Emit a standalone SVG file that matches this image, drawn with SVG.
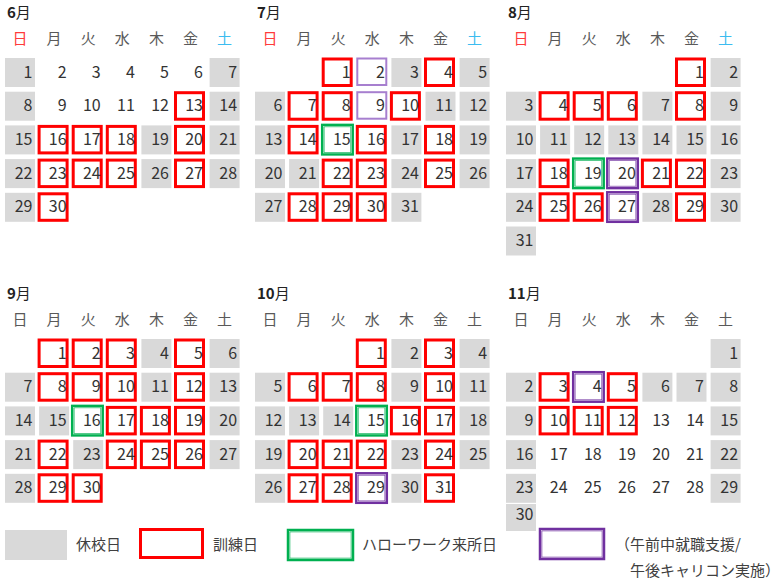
<svg xmlns="http://www.w3.org/2000/svg" xmlns:xlink="http://www.w3.org/1999/xlink" width="779" height="579" viewBox="0 0 779 579">
<style>
text{font-family:"Noto Sans CJK JP","Noto Sans",sans-serif;fill:#333}
.g{fill:#d9d9d9}
.n{font-size:16px;text-anchor:end}
.h{font-size:15px;text-anchor:middle;fill:#595959}
.sun{fill:#ff3b3b}
.sat{fill:#3cbcf0}
.t{font-size:15px;fill:#222}
.b{font-weight:bold}
.r{fill:none;stroke:#ff0000;stroke-width:3}
.gn{fill:none;stroke:#00b050;stroke-width:3.5}
.pu{fill:none;stroke:#7030a0;stroke-width:3.5}
.lv{fill:none;stroke:#a77fcf;stroke-width:2}
.w{fill:none;stroke:#ffffff;stroke-width:0.6;stroke-opacity:0.75}
.lg{font-size:15px;fill:#404040}
</style>
<defs>
<rect id="gc" class="g" width="30" height="29"/>
<rect id="rb" class="r" x="0" y="1" width="28" height="26.5"/>
<g id="gb"><rect class="gn" x="-0.5" y="0" width="29.5" height="28.5"/><rect class="w" x="0.4" y="0.9" width="27.7" height="26.7"/></g>
<g id="pb"><rect class="pu" x="-0.5" y="0" width="29.5" height="28.5"/><rect class="w" x="0.4" y="0.9" width="27.7" height="26.7"/></g>
<rect id="lb" class="lv" x="0" y="0.5" width="29" height="26.5"/>
<g id="hdr1">
<text class="h sun" x="15" y="-14">日</text><text class="h" x="49.1" y="-14">月</text><text class="h" x="83.2" y="-14">火</text><text class="h" x="117.3" y="-14">水</text><text class="h" x="151.4" y="-14">木</text><text class="h" x="185.5" y="-14">金</text><text class="h sat" x="219.6" y="-14">土</text>
</g>
<g id="hdr2">
<text class="h" x="15" y="-14">日</text><text class="h" x="49.1" y="-14">月</text><text class="h" x="83.2" y="-14">火</text><text class="h" x="117.3" y="-14">水</text><text class="h" x="151.4" y="-14">木</text><text class="h" x="185.5" y="-14">金</text><text class="h" x="219.6" y="-14">土</text>
</g>
</defs>

<g id="june" transform="translate(5,58)">
<text class="t" x="2" y="-40"><tspan class="b">6</tspan>月</text>
<use href="#hdr1"/>
<use href="#gc" x="0" y="0"/><use href="#gc" x="204.6" y="0"/>
<use href="#gc" x="0" y="33.7"/><use href="#gc" x="204.6" y="33.7"/>
<use href="#gc" x="0" y="67.4"/><use href="#gc" x="136.4" y="67.4"/><use href="#gc" x="204.6" y="67.4"/>
<use href="#gc" x="0" y="101.1"/><use href="#gc" x="136.4" y="101.1"/><use href="#gc" x="204.6" y="101.1"/>
<use href="#gc" x="0" y="134.8"/>
<use href="#rb" x="170.5" y="33.7"/>
<use href="#rb" x="34.1" y="67.4"/><use href="#rb" x="68.2" y="67.4"/><use href="#rb" x="102.3" y="67.4"/><use href="#rb" x="170.5" y="67.4"/>
<use href="#rb" x="34.1" y="101.1"/><use href="#rb" x="68.2" y="101.1"/><use href="#rb" x="102.3" y="101.1"/><use href="#rb" x="170.5" y="101.1"/>
<use href="#rb" x="34.1" y="134.8"/>
<text class="n" x="27.5" y="19.5">1</text><text class="n" x="61.6" y="19.5">2</text><text class="n" x="95.7" y="19.5">3</text><text class="n" x="129.8" y="19.5">4</text><text class="n" x="163.9" y="19.5">5</text><text class="n" x="198" y="19.5">6</text><text class="n" x="232.1" y="19.5">7</text>
<text class="n" x="27.5" y="53.2">8</text><text class="n" x="61.6" y="53.2">9</text><text class="n" x="95.7" y="53.2">10</text><text class="n" x="129.8" y="53.2">11</text><text class="n" x="163.9" y="53.2">12</text><text class="n" x="198" y="53.2">13</text><text class="n" x="232.1" y="53.2">14</text>
<text class="n" x="27.5" y="86.9">15</text><text class="n" x="61.6" y="86.9">16</text><text class="n" x="95.7" y="86.9">17</text><text class="n" x="129.8" y="86.9">18</text><text class="n" x="163.9" y="86.9">19</text><text class="n" x="198" y="86.9">20</text><text class="n" x="232.1" y="86.9">21</text>
<text class="n" x="27.5" y="120.6">22</text><text class="n" x="61.6" y="120.6">23</text><text class="n" x="95.7" y="120.6">24</text><text class="n" x="129.8" y="120.6">25</text><text class="n" x="163.9" y="120.6">26</text><text class="n" x="198" y="120.6">27</text><text class="n" x="232.1" y="120.6">28</text>
<text class="n" x="27.5" y="154.3">29</text><text class="n" x="61.6" y="154.3">30</text>
</g>

<g id="july" transform="translate(255,58)">
<text class="t" x="2" y="-40"><tspan class="b">7</tspan>月</text>
<use href="#hdr1"/>
<use href="#gc" x="136.4" y="0"/><use href="#gc" x="204.6" y="0"/>
<use href="#gc" x="0" y="33.7"/><use href="#gc" x="170.5" y="33.7"/><use href="#gc" x="204.6" y="33.7"/>
<use href="#gc" x="0" y="67.4"/><use href="#gc" x="136.4" y="67.4"/><use href="#gc" x="204.6" y="67.4"/>
<use href="#gc" x="0" y="101.1"/><use href="#gc" x="34.1" y="101.1"/><use href="#gc" x="136.4" y="101.1"/><use href="#gc" x="204.6" y="101.1"/>
<use href="#gc" x="0" y="134.8"/><use href="#gc" x="136.4" y="134.8"/>
<use href="#rb" x="68.2" y="0"/><use href="#rb" x="170.5" y="0"/>
<use href="#rb" x="34.1" y="33.7"/><use href="#rb" x="68.2" y="33.7"/><use href="#rb" x="136.4" y="33.7"/>
<use href="#rb" x="34.1" y="67.4"/><use href="#rb" x="102.3" y="67.4"/><use href="#rb" x="170.5" y="67.4"/>
<use href="#rb" x="68.2" y="101.1"/><use href="#rb" x="102.3" y="101.1"/><use href="#rb" x="170.5" y="101.1"/>
<use href="#rb" x="34.1" y="134.8"/><use href="#rb" x="68.2" y="134.8"/><use href="#rb" x="102.3" y="134.8"/>
<use href="#lb" x="102.3" y="0"/><use href="#lb" x="102.3" y="33.7"/>
<use href="#gb" x="68.2" y="67.4"/>
<text class="n" x="95.7" y="19.5">1</text><text class="n" x="129.8" y="19.5">2</text><text class="n" x="163.9" y="19.5">3</text><text class="n" x="198" y="19.5">4</text><text class="n" x="232.1" y="19.5">5</text>
<text class="n" x="27.5" y="53.2">6</text><text class="n" x="61.6" y="53.2">7</text><text class="n" x="95.7" y="53.2">8</text><text class="n" x="129.8" y="53.2">9</text><text class="n" x="163.9" y="53.2">10</text><text class="n" x="198" y="53.2">11</text><text class="n" x="232.1" y="53.2">12</text>
<text class="n" x="27.5" y="86.9">13</text><text class="n" x="61.6" y="86.9">14</text><text class="n" x="95.7" y="86.9">15</text><text class="n" x="129.8" y="86.9">16</text><text class="n" x="163.9" y="86.9">17</text><text class="n" x="198" y="86.9">18</text><text class="n" x="232.1" y="86.9">19</text>
<text class="n" x="27.5" y="120.6">20</text><text class="n" x="61.6" y="120.6">21</text><text class="n" x="95.7" y="120.6">22</text><text class="n" x="129.8" y="120.6">23</text><text class="n" x="163.9" y="120.6">24</text><text class="n" x="198" y="120.6">25</text><text class="n" x="232.1" y="120.6">26</text>
<text class="n" x="27.5" y="154.3">27</text><text class="n" x="61.6" y="154.3">28</text><text class="n" x="95.7" y="154.3">29</text><text class="n" x="129.8" y="154.3">30</text><text class="n" x="163.9" y="154.3">31</text>
</g>

<g id="august" transform="translate(506,58)">
<text class="t" x="2" y="-40"><tspan class="b">8</tspan>月</text>
<use href="#hdr1"/>
<use href="#gc" x="204.6" y="0"/>
<use href="#gc" x="0" y="33.7"/><use href="#gc" x="136.4" y="33.7"/><use href="#gc" x="204.6" y="33.7"/>
<use href="#gc" x="0" y="67.4"/><use href="#gc" x="34.1" y="67.4"/><use href="#gc" x="68.2" y="67.4"/><use href="#gc" x="102.3" y="67.4"/><use href="#gc" x="136.4" y="67.4"/><use href="#gc" x="170.5" y="67.4"/><use href="#gc" x="204.6" y="67.4"/>
<use href="#gc" x="0" y="101.1"/><use href="#gc" x="204.6" y="101.1"/>
<use href="#gc" x="0" y="134.8"/><use href="#gc" x="136.4" y="134.8"/><use href="#gc" x="204.6" y="134.8"/>
<use href="#gc" x="0" y="168.5"/>
<use href="#rb" x="170.5" y="0"/>
<use href="#rb" x="34.1" y="33.7"/><use href="#rb" x="68.2" y="33.7"/><use href="#rb" x="102.3" y="33.7"/><use href="#rb" x="170.5" y="33.7"/>
<use href="#rb" x="34.1" y="101.1"/><use href="#rb" x="136.4" y="101.1"/><use href="#rb" x="170.5" y="101.1"/>
<use href="#rb" x="34.1" y="134.8"/><use href="#rb" x="68.2" y="134.8"/><use href="#rb" x="170.5" y="134.8"/>
<use href="#gb" x="68.2" y="101.1"/>
<use href="#pb" x="102.3" y="101.1"/><use href="#pb" x="102.3" y="134.8"/>
<text class="n" x="198" y="19.5">1</text><text class="n" x="232.1" y="19.5">2</text>
<text class="n" x="27.5" y="53.2">3</text><text class="n" x="61.6" y="53.2">4</text><text class="n" x="95.7" y="53.2">5</text><text class="n" x="129.8" y="53.2">6</text><text class="n" x="163.9" y="53.2">7</text><text class="n" x="198" y="53.2">8</text><text class="n" x="232.1" y="53.2">9</text>
<text class="n" x="27.5" y="86.9">10</text><text class="n" x="61.6" y="86.9">11</text><text class="n" x="95.7" y="86.9">12</text><text class="n" x="129.8" y="86.9">13</text><text class="n" x="163.9" y="86.9">14</text><text class="n" x="198" y="86.9">15</text><text class="n" x="232.1" y="86.9">16</text>
<text class="n" x="27.5" y="120.6">17</text><text class="n" x="61.6" y="120.6">18</text><text class="n" x="95.7" y="120.6">19</text><text class="n" x="129.8" y="120.6">20</text><text class="n" x="163.9" y="120.6">21</text><text class="n" x="198" y="120.6">22</text><text class="n" x="232.1" y="120.6">23</text>
<text class="n" x="27.5" y="154.3">24</text><text class="n" x="61.6" y="154.3">25</text><text class="n" x="95.7" y="154.3">26</text><text class="n" x="129.8" y="154.3">27</text><text class="n" x="163.9" y="154.3">28</text><text class="n" x="198" y="154.3">29</text><text class="n" x="232.1" y="154.3">30</text>
<text class="n" x="27.5" y="188">31</text>
</g>

<g id="september" transform="translate(5,339)">
<text class="t" x="2" y="-40"><tspan class="b">9</tspan>月</text>
<use href="#hdr2"/>
<use href="#gc" x="136.4" y="0"/><use href="#gc" x="204.6" y="0"/>
<use href="#gc" x="0" y="33.7"/><use href="#gc" x="136.4" y="33.7"/><use href="#gc" x="204.6" y="33.7"/>
<use href="#gc" x="0" y="67.4"/><use href="#gc" x="34.1" y="67.4"/><use href="#gc" x="204.6" y="67.4"/>
<use href="#gc" x="0" y="101.1"/><use href="#gc" x="68.2" y="101.1"/><use href="#gc" x="204.6" y="101.1"/>
<use href="#gc" x="0" y="134.8"/>
<use href="#rb" x="34.1" y="0"/><use href="#rb" x="68.2" y="0"/><use href="#rb" x="102.3" y="0"/><use href="#rb" x="170.5" y="0"/>
<use href="#rb" x="34.1" y="33.7"/><use href="#rb" x="68.2" y="33.7"/><use href="#rb" x="102.3" y="33.7"/><use href="#rb" x="170.5" y="33.7"/>
<use href="#rb" x="102.3" y="67.4"/><use href="#rb" x="136.4" y="67.4"/><use href="#rb" x="170.5" y="67.4"/>
<use href="#rb" x="34.1" y="101.1"/><use href="#rb" x="102.3" y="101.1"/><use href="#rb" x="136.4" y="101.1"/><use href="#rb" x="170.5" y="101.1"/>
<use href="#rb" x="34.1" y="134.8"/><use href="#rb" x="68.2" y="134.8"/>
<use href="#gb" x="68.2" y="67.4"/>
<text class="n" x="61.6" y="19.5">1</text><text class="n" x="95.7" y="19.5">2</text><text class="n" x="129.8" y="19.5">3</text><text class="n" x="163.9" y="19.5">4</text><text class="n" x="198" y="19.5">5</text><text class="n" x="232.1" y="19.5">6</text>
<text class="n" x="27.5" y="53.2">7</text><text class="n" x="61.6" y="53.2">8</text><text class="n" x="95.7" y="53.2">9</text><text class="n" x="129.8" y="53.2">10</text><text class="n" x="163.9" y="53.2">11</text><text class="n" x="198" y="53.2">12</text><text class="n" x="232.1" y="53.2">13</text>
<text class="n" x="27.5" y="86.9">14</text><text class="n" x="61.6" y="86.9">15</text><text class="n" x="95.7" y="86.9">16</text><text class="n" x="129.8" y="86.9">17</text><text class="n" x="163.9" y="86.9">18</text><text class="n" x="198" y="86.9">19</text><text class="n" x="232.1" y="86.9">20</text>
<text class="n" x="27.5" y="120.6">21</text><text class="n" x="61.6" y="120.6">22</text><text class="n" x="95.7" y="120.6">23</text><text class="n" x="129.8" y="120.6">24</text><text class="n" x="163.9" y="120.6">25</text><text class="n" x="198" y="120.6">26</text><text class="n" x="232.1" y="120.6">27</text>
<text class="n" x="27.5" y="154.3">28</text><text class="n" x="61.6" y="154.3">29</text><text class="n" x="95.7" y="154.3">30</text>
</g>

<g id="october" transform="translate(255,339)">
<text class="t" x="2" y="-40"><tspan class="b">10</tspan>月</text>
<use href="#hdr2"/>
<use href="#gc" x="136.4" y="0"/><use href="#gc" x="204.6" y="0"/>
<use href="#gc" x="0" y="33.7"/><use href="#gc" x="136.4" y="33.7"/><use href="#gc" x="204.6" y="33.7"/>
<use href="#gc" x="0" y="67.4"/><use href="#gc" x="34.1" y="67.4"/><use href="#gc" x="68.2" y="67.4"/><use href="#gc" x="204.6" y="67.4"/>
<use href="#gc" x="0" y="101.1"/><use href="#gc" x="136.4" y="101.1"/><use href="#gc" x="204.6" y="101.1"/>
<use href="#gc" x="0" y="134.8"/><use href="#gc" x="136.4" y="134.8"/>
<use href="#rb" x="102.3" y="0"/><use href="#rb" x="170.5" y="0"/>
<use href="#rb" x="34.1" y="33.7"/><use href="#rb" x="68.2" y="33.7"/><use href="#rb" x="102.3" y="33.7"/><use href="#rb" x="170.5" y="33.7"/>
<use href="#rb" x="136.4" y="67.4"/><use href="#rb" x="170.5" y="67.4"/>
<use href="#rb" x="34.1" y="101.1"/><use href="#rb" x="68.2" y="101.1"/><use href="#rb" x="102.3" y="101.1"/><use href="#rb" x="170.5" y="101.1"/>
<use href="#rb" x="34.1" y="134.8"/><use href="#rb" x="68.2" y="134.8"/><use href="#rb" x="170.5" y="134.8"/>
<use href="#gb" x="102.3" y="67.4"/>
<use href="#pb" x="102.3" y="134.8"/>
<text class="n" x="129.8" y="19.5">1</text><text class="n" x="163.9" y="19.5">2</text><text class="n" x="198" y="19.5">3</text><text class="n" x="232.1" y="19.5">4</text>
<text class="n" x="27.5" y="53.2">5</text><text class="n" x="61.6" y="53.2">6</text><text class="n" x="95.7" y="53.2">7</text><text class="n" x="129.8" y="53.2">8</text><text class="n" x="163.9" y="53.2">9</text><text class="n" x="198" y="53.2">10</text><text class="n" x="232.1" y="53.2">11</text>
<text class="n" x="27.5" y="86.9">12</text><text class="n" x="61.6" y="86.9">13</text><text class="n" x="95.7" y="86.9">14</text><text class="n" x="129.8" y="86.9">15</text><text class="n" x="163.9" y="86.9">16</text><text class="n" x="198" y="86.9">17</text><text class="n" x="232.1" y="86.9">18</text>
<text class="n" x="27.5" y="120.6">19</text><text class="n" x="61.6" y="120.6">20</text><text class="n" x="95.7" y="120.6">21</text><text class="n" x="129.8" y="120.6">22</text><text class="n" x="163.9" y="120.6">23</text><text class="n" x="198" y="120.6">24</text><text class="n" x="232.1" y="120.6">25</text>
<text class="n" x="27.5" y="154.3">26</text><text class="n" x="61.6" y="154.3">27</text><text class="n" x="95.7" y="154.3">28</text><text class="n" x="129.8" y="154.3">29</text><text class="n" x="163.9" y="154.3">30</text><text class="n" x="198" y="154.3">31</text>
</g>

<g id="november" transform="translate(506,339)">
<text class="t" x="2" y="-40"><tspan class="b">11</tspan>月</text>
<use href="#hdr2"/>
<use href="#gc" x="204.6" y="0"/>
<use href="#gc" x="0" y="33.7"/><use href="#gc" x="136.4" y="33.7"/><use href="#gc" x="170.5" y="33.7"/><use href="#gc" x="204.6" y="33.7"/>
<use href="#gc" x="0" y="67.4"/><use href="#gc" x="204.6" y="67.4"/>
<use href="#gc" x="0" y="101.1"/><use href="#gc" x="204.6" y="101.1"/>
<use href="#gc" x="0" y="134.8"/><use href="#gc" x="204.6" y="134.8"/>
<rect class="g" x="0" y="165" width="30" height="27"/>
<use href="#rb" x="34.1" y="33.7"/><use href="#rb" x="102.3" y="33.7"/>
<use href="#rb" x="34.1" y="67.4"/><use href="#rb" x="68.2" y="67.4"/><use href="#rb" x="102.3" y="67.4"/>
<use href="#pb" x="68.2" y="33.7"/>
<text class="n" x="232.1" y="19.5">1</text>
<text class="n" x="27.5" y="53.2">2</text><text class="n" x="61.6" y="53.2">3</text><text class="n" x="95.7" y="53.2">4</text><text class="n" x="129.8" y="53.2">5</text><text class="n" x="163.9" y="53.2">6</text><text class="n" x="198" y="53.2">7</text><text class="n" x="232.1" y="53.2">8</text>
<text class="n" x="27.5" y="86.9">9</text><text class="n" x="61.6" y="86.9">10</text><text class="n" x="95.7" y="86.9">11</text><text class="n" x="129.8" y="86.9">12</text><text class="n" x="163.9" y="86.9">13</text><text class="n" x="198" y="86.9">14</text><text class="n" x="232.1" y="86.9">15</text>
<text class="n" x="27.5" y="120.6">16</text><text class="n" x="61.6" y="120.6">17</text><text class="n" x="95.7" y="120.6">18</text><text class="n" x="129.8" y="120.6">19</text><text class="n" x="163.9" y="120.6">20</text><text class="n" x="198" y="120.6">21</text><text class="n" x="232.1" y="120.6">22</text>
<text class="n" x="27.5" y="154.3">23</text><text class="n" x="61.6" y="154.3">24</text><text class="n" x="95.7" y="154.3">25</text><text class="n" x="129.8" y="154.3">26</text><text class="n" x="163.9" y="154.3">27</text><text class="n" x="198" y="154.3">28</text><text class="n" x="232.1" y="154.3">29</text>
<text class="n" x="27.5" y="181">30</text>
</g>

<g id="legend">
<rect class="g" x="5" y="530" width="62" height="30"/>
<text class="lg" x="76" y="550">休校日</text>
<rect class="r" x="140.5" y="529.5" width="62" height="28"/>
<text class="lg" x="213" y="550">訓練日</text>
<rect class="gn" x="288.5" y="530.5" width="64" height="29"/>
<rect class="w" x="289.5" y="531.5" width="62" height="27"/>
<text class="lg" x="362" y="550">ハローワーク来所日</text>
<rect class="pu" x="540.5" y="529.5" width="63" height="29"/>
<rect class="w" x="541.5" y="530.5" width="61" height="27"/>
<text class="lg" x="615" y="550">（午前中就職支援/</text>
<text class="lg" x="630" y="576">午後キャリコン実施）</text>
</g>
</svg>
